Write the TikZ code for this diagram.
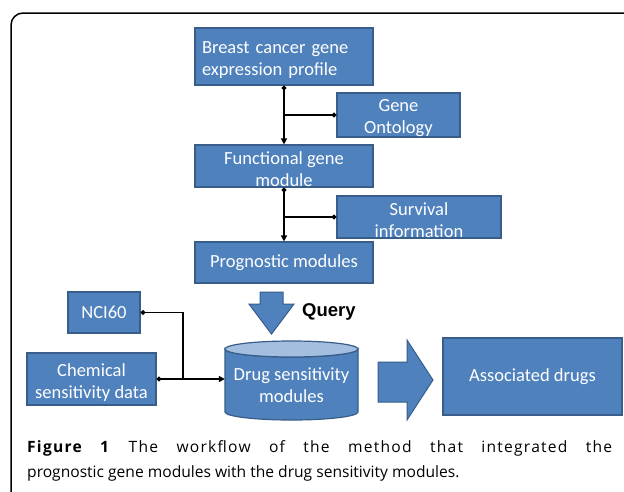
\documentclass[tikz,border=0pt]{standalone}
\usepackage{fontspec}
\setmainfont{Carlito}
\newfontfamily\capfont{Open Sans}
\newfontfamily\capfontwide[LetterSpace=8]{Open Sans}
\newfontfamily\qfont{Liberation Sans}
\usetikzlibrary{arrows.meta}
\definecolor{boxblue}{HTML}{4F81BD}
\definecolor{boxedge}{HTML}{385D8A}
\definecolor{cyltop}{HTML}{A3BEDF}
\newcommand{\upstrut}{\rule{0pt}{19pt}}
\begin{document}
\begin{tikzpicture}[x=1pt,y=-1pt,
  bx/.style={draw=boxedge, fill=boxblue, line width=1.2pt, text=white,
    font=\fontsize{18.5}{22}\selectfont, align=center, inner sep=0pt},
  conn/.style={line width=1.5pt, draw=black},
  tipdot/.tip={Circle[length=4.8pt]},
  tiparr/.tip={Triangle[length=6pt,width=6pt]},
  blockarrow/.style={fill=boxblue, draw=boxedge, line width=1pt, line join=miter},
  captxt/.style={inner sep=0pt, anchor=base west}
]
\useasboundingbox (0,0) rectangle (624,491);
\fill[white] (0,0) rectangle (624,491);
% frame
\draw[line width=1.5pt, rounded corners=12pt] (640,13) -- (11,13) -- (11,510);

% boxes
\node[bx, minimum width=178pt, minimum height=57pt, text width=164pt, align=left] (bc) at (284,56.5) {\upstrut Breast cancer gene\\expression profile};
\node[bx, minimum width=123pt, minimum height=42pt] (go) at (398.5,115) {\upstrut Gene\\Ontology};
\node[bx, minimum width=178pt, minimum height=42pt] (fg) at (284,166) {\upstrut Functional gene\\module};
\node[bx, minimum width=164pt, minimum height=42pt] (si) at (419,217) {\upstrut Survival\\information};
\node[bx, minimum width=178pt, minimum height=41pt] (pm) at (284,262.5) {Prognostic modules};
\node[bx, minimum width=72pt, minimum height=41pt] (nci) at (104,312.5) {NCI60};
\node[bx, minimum width=129pt, minimum height=52pt] (chem) at (91.5,379) {\upstrut Chemical\\sensitivity data};
\node[bx, minimum width=179pt, minimum height=77pt] (ad) at (532.5,376.5) {Associated drugs};

% cylinder
\fill[boxblue, draw=boxedge, line width=1.2pt]
  (225,349) -- (225,412) arc[start angle=180, end angle=360, x radius=66.5pt, y radius=8pt]
  -- (358,349) arc[start angle=0, end angle=-180, x radius=66.5pt, y radius=8pt] -- cycle;
\filldraw[fill=cyltop, draw=boxedge, line width=1.2pt] (291.5,349) ellipse[x radius=66.5pt, y radius=8pt];
\node[text=white, font=\fontsize{18.5}{22}\selectfont, align=center, inner sep=0pt,
  minimum width=133pt, minimum height=50pt] (cyl) at (291.5,385) {Drug sensitivity\\modules};

% block arrows
\draw[blockarrow] (260,292) -- (283,292) -- (283,304) -- (294,304) -- (271.5,334) -- (249,304) -- (260,304) -- cycle;
\draw[blockarrow] (378,362) -- (407,362) -- (407,340) -- (433,380) -- (407,420) -- (407,402) -- (378,402) -- cycle;
\node[font=\qfont\bfseries\fontsize{18.5}{20}\selectfont, anchor=west, inner sep=0pt] (q) at (302,312) {Query};

% connectors
\draw[conn, {tipdot}-{tiparr}] (bc.south) -- (fg.north);
\draw[conn, -{tipdot}] (bc.south |- go.west) -- (go.west);
\draw[conn, {tipdot}-{tiparr}] (fg.south) -- (pm.north);
\draw[conn, -{tipdot}] (fg.south |- si.west) -- (si.west);
\coordinate (jn) at (183,379);
\draw[conn, {tipdot}-] (nci.east) -| (jn);
\draw[conn, {tipdot}-{tiparr}] (chem.east) -- (chem.east -| cyl.west);

% caption
\node[captxt, font=\capfontwide\fontsize{15.6}{18}\selectfont] (cap1) at (27,452) {\makebox[585pt][s]{\textbf{Figure 1} The workflow of the method that integrated the}};
\node[captxt, font=\capfont\fontsize{15.6}{18}\selectfont] (cap2) at (27,477) {prognostic gene modules with the drug sensitivity modules.};
\end{tikzpicture}
\end{document}
